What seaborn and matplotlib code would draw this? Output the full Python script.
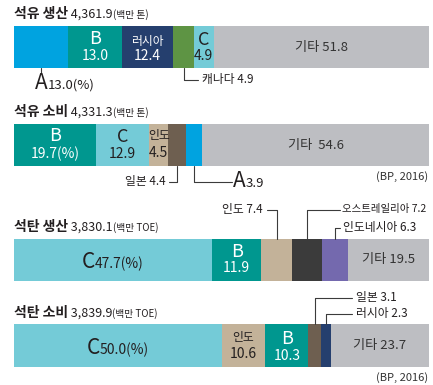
import matplotlib
matplotlib.use("Agg")
import matplotlib.pyplot as plt
import matplotlib.transforms as mtransforms
from matplotlib.lines import Line2D
import pandas as pd
import seaborn as sns

# World shares (%) by country group, BP 2016
oil_prod_labels = ["A", "B", "러시아", "캐나다", "C", "기타"]
oil_prod_shares = [13.0, 13.0, 12.4, 4.9, 4.9, 51.8]
oil_cons_labels = ["B", "C", "인도", "일본", "A", "기타"]
oil_cons_shares = [19.7, 12.9, 4.5, 4.4, 3.9, 54.6]
coal_prod_labels = ["C", "B", "인도", "오스트레일리아", "인도네시아", "기타"]
coal_prod_shares = [47.7, 11.9, 7.4, 7.2, 6.3, 19.5]
coal_cons_labels = ["C", "인도", "B", "일본", "러시아", "기타"]
coal_cons_shares = [50.0, 10.6, 10.3, 3.1, 2.3, 23.7]

titles = ["석유 생산", "석유 소비", "석탄 생산", "석탄 소비"]
totals = ["4,361.9", "4,331.3", "3,830.1", "3,839.9"]
units = ["(백만 톤)", "(백만 톤)", "(백만 TOE)", "(백만 TOE)"]
source = "(BP, 2016)"

palette = {
    "A": "#00a3e0", "B": "#00978f", "C": "#74cbd7",
    "러시아": "#253f6e", "캐나다": "#5e9444", "인도": "#c3b299",
    "일본": "#6e5f50", "오스트레일리아": "#3b3b3b", "인도네시아": "#7469ae",
    "기타": "#bdbec2",
}

sns.set_theme(style="white")
plt.rcParams["font.family"] = ["Noto Sans CJK KR", "DejaVu Sans"]

W, H, DPI = 433, 385, 100
X0, X1 = 14, 429
fig = plt.figure(figsize=(W / DPI, H / DPI), dpi=DPI)
fig.patch.set_facecolor("white")
ID = mtransforms.IdentityTransform()
renderer = fig.canvas.get_renderer()

DARK = "#231f20"
GREY_TXT = "#333333"
LINE = "#3b3b3b"
WHITE = "white"


def text(x, y, s, size, color=DARK, ha="center", va="center", weight="normal"):
    return fig.text(x, H - y, s, transform=ID, fontsize=size, color=color,
                    ha=ha, va=va, fontweight=weight)


def compound(x, y, parts, anchor="center"):
    """Several differently sized pieces of text sharing one baseline."""
    objs = [text(0, y, s, size, color, ha="left", va="baseline", weight=w)
            for s, size, color, w in parts]
    widths = [o.get_window_extent(renderer).width for o in objs]
    if anchor == "center":
        start = x - sum(widths) / 2
    elif anchor == "first":
        start = x - widths[0] / 2
    else:
        start = x
    for o, w in zip(objs, widths):
        o.set_x(start)
        start += w


def leader(x, y0, y1, x_end):
    fig.add_artist(Line2D([x, x, x_end], [H - y0, H - y1, H - y1],
                          transform=ID, color=LINE, lw=0.8))


def stacked_bar(top, bottom, name, labels, shares):
    ax = fig.add_axes([X0 / W, 1 - bottom / H, (X1 - X0) / W, (bottom - top) / H])
    df = pd.DataFrame({"row": name, "label": labels, "share": shares})
    df["left"] = df["share"].cumsum() - df["share"]
    for lab, seg in df.groupby("label", sort=False):
        sns.barplot(data=seg, x="share", y="row", orient="h",
                    color=palette[lab], left=seg["left"].to_numpy(),
                    width=1, saturation=1, errorbar=None, linewidth=0, ax=ax)
    ax.set_xlim(0, 100)
    ax.set_ylim(0.5, -0.5)
    ax.set_axis_off()
    return [ax.transData.transform((l + s / 2, 0))[0]
            for l, s in zip(df["left"], df["share"])]


def header(y, i):
    compound(X0, y, [(titles[i], 10, DARK, "bold"),
                     (" " + totals[i], 9, DARK, "medium"),
                     (units[i], 7, DARK, "normal")], anchor="left")


BIG, VAL, NAME, PLAIN, OUT = 13, 10, 8.5, 9.5, 8.5

# ---- 석유 생산 ----
top, bot = 26, 68
header(18, 0)
c = stacked_bar(top, bot, titles[0], oil_prod_labels, oil_prod_shares)
v = oil_prod_shares
leader(c[0], bot, 73, c[0])
compound(c[0], 89, [("A", 15, DARK, "normal"), (f"{v[0]:.1f}(%)", 9.5, DARK, "normal")], anchor="first")
text(c[1], top + 13, "B", BIG, WHITE)
text(c[1], top + 30, f"{v[1]:.1f}", VAL, WHITE)
text(c[2], top + 15, "러시아", NAME, WHITE)
text(c[2], top + 30, f"{v[2]:.1f}", VAL, WHITE)
leader(c[3], bot, 80, 198)
text(202, 80, f"캐나다 {v[3]:.1f}", OUT, DARK, ha="left")
text(c[4], top + 14, "C", BIG, DARK)
text(c[4], top + 30, f"{v[4]:.1f}", VAL, DARK)
text(c[5], (top + bot) / 2, f"기타 {v[5]:.1f}", PLAIN, GREY_TXT)

# ---- 석유 소비 ----
top, bot = 124, 166
header(116, 1)
c = stacked_bar(top, bot, titles[1], oil_cons_labels, oil_cons_shares)
v = oil_cons_shares
text(c[0], top + 12, "B", BIG, WHITE)
text(c[0], top + 30, f"{v[0]:.1f}(%)", VAL, WHITE)
text(c[1], top + 13, "C", BIG, DARK)
text(c[1], top + 30, f"{v[1]:.1f}", VAL, DARK)
text(c[2], top + 11, "인도", NAME, DARK)
text(c[2], top + 29, f"{v[2]:.1f}", VAL, DARK)
leader(c[3], bot, 182, c[3] - 8)
text(c[3] - 11, 182, f"일본 {v[3]:.1f}", OUT, DARK, ha="right")
leader(c[4], bot, 182, 232)
compound(233, 187, [("A", 15, DARK, "normal"), (f"{v[4]:.1f}", 9.5, DARK, "normal")], anchor="left")
text(c[5], (top + bot) / 2, f"기타  {v[5]:.1f}", PLAIN, GREY_TXT)
text(428, 177, source, 8, GREY_TXT, ha="right")

# ---- 석탄 생산 ----
top, bot = 239, 281
header(231, 2)
c = stacked_bar(top, bot, titles[2], coal_prod_labels, coal_prod_shares)
v = coal_prod_shares
compound(c[0], 268, [("C", 15, DARK, "normal"), (f"{v[0]:.1f}(%)", 10, DARK, "normal")])
text(c[1], top + 13, "B", BIG, WHITE)
text(c[1], top + 29, f"{v[1]:.1f}", VAL, WHITE)
leader(c[2], top, 210, c[2] - 10)
text(c[2] - 14, 209, f"인도 {v[2]:.1f}", OUT, DARK, ha="right")
leader(c[3], top, 210, 340)
text(342, 209, f"오스트레일리아 {v[3]:.1f}", 7.5, DARK, ha="left")
leader(c[4], top, 228, c[4] + 5)
text(c[4] + 8, 227, f"인도네시아 {v[4]:.1f}", OUT, DARK, ha="left")
text(c[5], (top + bot) / 2, f"기타 {v[5]:.1f}", PLAIN, GREY_TXT)

# ---- 석탄 소비 ----
top, bot = 324, 367
header(317, 3)
c = stacked_bar(top, bot, titles[3], coal_cons_labels, coal_cons_shares)
v = coal_cons_shares
compound(c[0], 354, [("C", 15, DARK, "normal"), (f"{v[0]:.1f}(%)", 10, DARK, "normal")])
text(c[1], top + 14, "인도", NAME, DARK)
text(c[1], top + 30, f"{v[1]:.1f}", VAL, DARK)
text(c[2], top + 15, "B", BIG, WHITE)
text(c[2], top + 32, f"{v[2]:.1f}", VAL, WHITE)
leader(c[3], top, 298, 352)
text(356, 297, f"일본 {v[3]:.1f}", OUT, DARK, ha="left")
leader(c[4], top, 314, 352)
text(356, 313, f"러시아 {v[4]:.1f}", OUT, DARK, ha="left")
text(c[5], (top + bot) / 2, f"기타 {v[5]:.1f}", PLAIN, GREY_TXT)
text(428, 378, source, 8, GREY_TXT, ha="right")

fig.savefig("out.png", dpi=DPI)
